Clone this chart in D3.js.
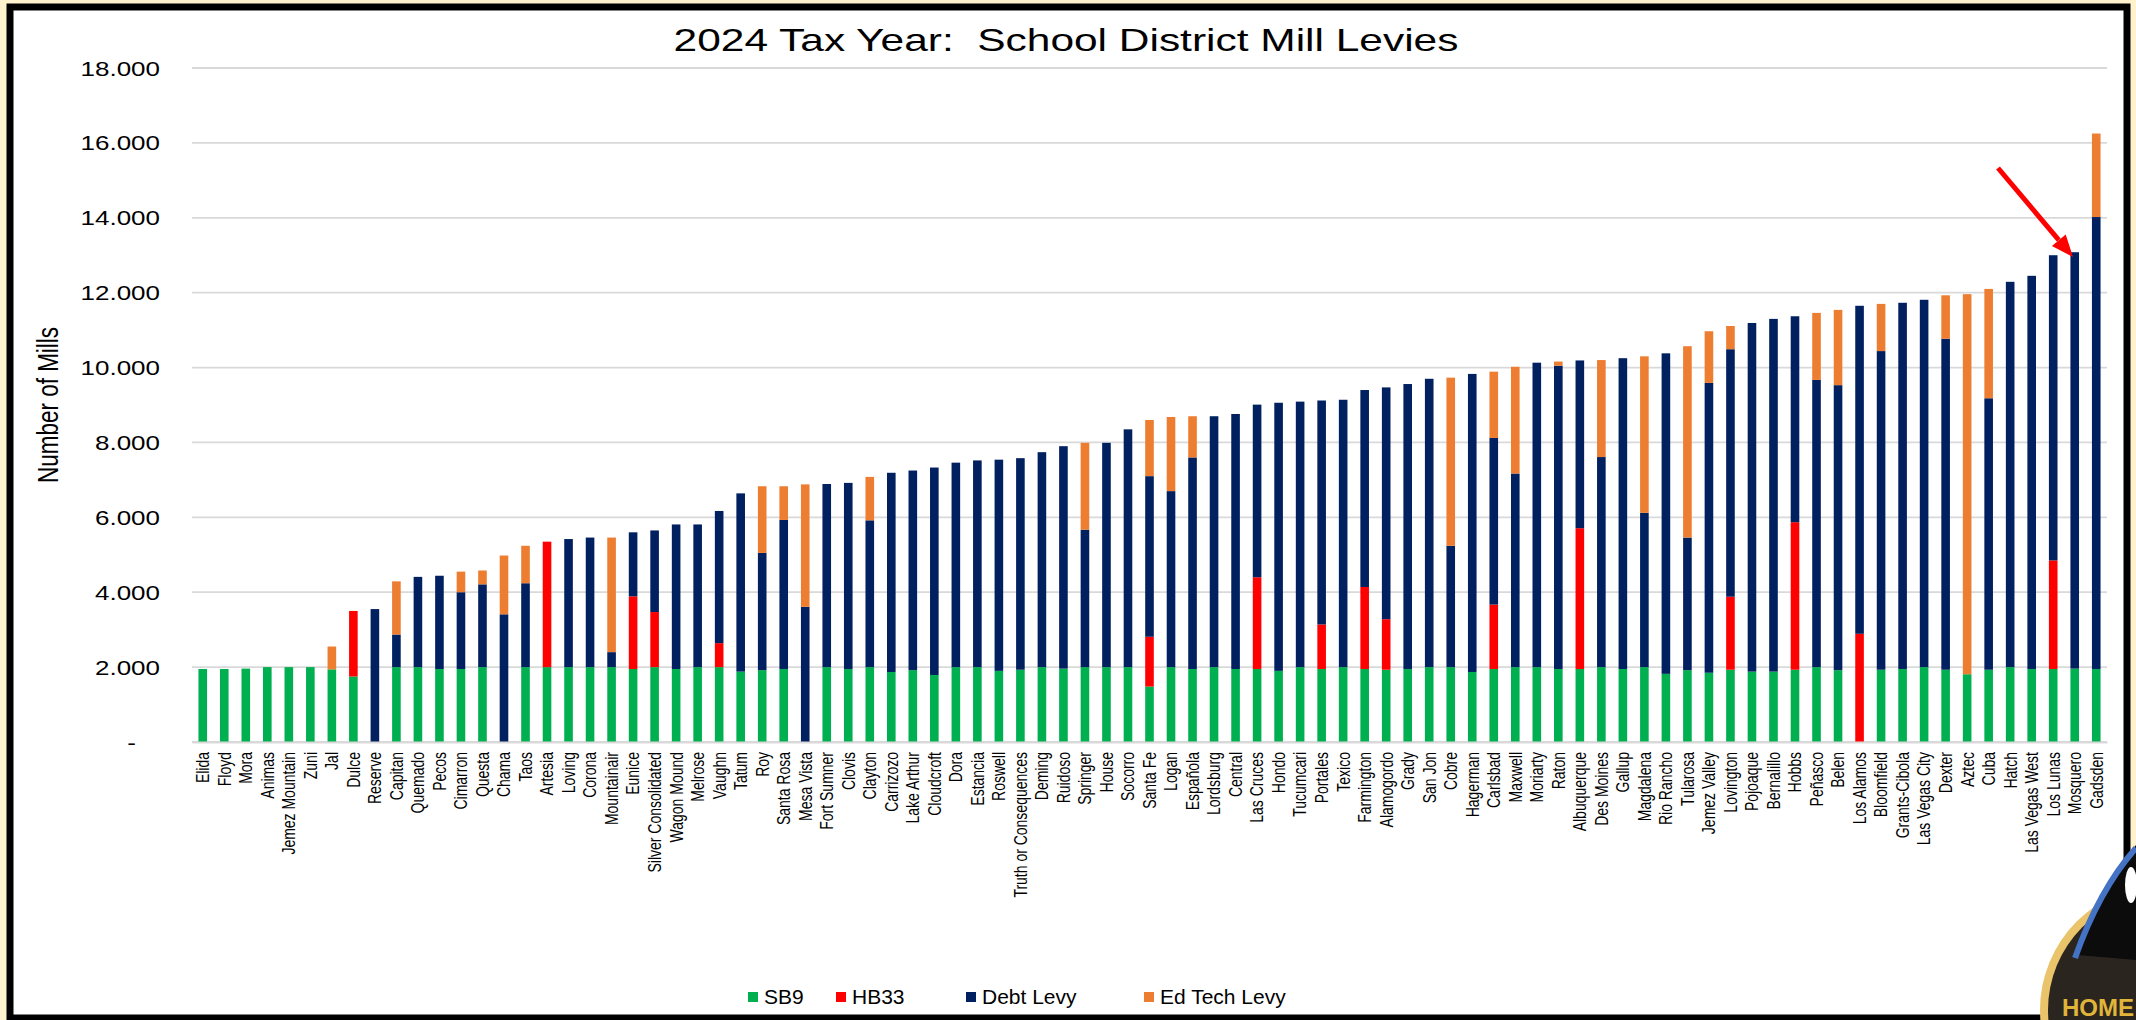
<!DOCTYPE html>
<html><head><meta charset="utf-8">
<script src="https://cdn.jsdelivr.net/npm/d3@7"></script>
<style>
body{margin:0;background:#FFF2CC;}
svg{display:block;}
text{font-family:"Liberation Sans", Arial, sans-serif;}
</style>
</head><body>
<svg id="chart" width="2136" height="1020"></svg>
<script>
const districts = ["Elida","Floyd","Mora","Animas","Jemez Mountain","Zuni","Jal","Dulce","Reserve","Capitan","Quemado","Pecos","Cimarron","Questa","Chama","Taos","Artesia","Loving","Corona","Mountainair","Eunice","Silver Consolidated","Wagon Mound","Melrose","Vaughn","Tatum","Roy","Santa Rosa","Mesa Vista","Fort Sumner","Clovis","Clayton","Carrizozo","Lake Arthur","Cloudcroft","Dora","Estancia","Roswell","Truth or Consequences","Deming","Ruidoso","Springer","House","Socorro","Santa Fe","Logan","Española","Lordsburg","Central","Las Cruces","Hondo","Tucumcari","Portales","Texico","Farmington","Alamogordo","Grady","San Jon","Cobre","Hagerman","Carlsbad","Maxwell","Moriarty","Raton","Albuquerque","Des Moines","Gallup","Magdalena","Rio Rancho","Tularosa","Jemez Valley","Lovington","Pojoaque","Bernalillo","Hobbs","Peñasco","Belen","Los Alamos","Bloomfield","Grants-Cibola","Las Vegas City","Dexter","Aztec","Cuba","Hatch","Las Vegas West","Los Lunas","Mosquero","Gadsden"];

const sb9 = [1.95,1.95,1.96,2.0,2.0,2.0,1.94,1.75,0,2.0,2.0,1.95,1.95,2.0,0,2.0,2.0,2.0,2.0,2.0,1.95,2.0,1.95,2.0,2.0,1.88,1.92,1.95,0,2.0,1.95,2.0,1.87,1.92,1.79,2.0,2.0,1.90,1.93,2.0,1.96,2.0,2.0,2.0,1.48,2.0,1.95,2.0,1.95,1.95,1.90,2.0,1.95,2.0,1.95,1.93,1.95,2.0,2.0,1.87,1.95,2.0,2.0,1.95,1.95,2.0,1.95,2.0,1.82,1.92,1.85,1.93,1.88,1.88,1.93,2.0,1.92,0,1.93,1.95,2.0,1.93,1.81,1.93,2.0,1.95,1.95,1.96,1.95];

const hb33 = [0,0,0,0,0,0,0,1.75,0,0,0,0,0,0,0,0,3.35,0,0,0,1.94,1.47,0,0,0.64,0,0,0,0,0,0,0,0,0,0,0,0,0,0,0,0,0,0,0,1.33,0,0,0,0,2.45,0,0,1.19,0,2.19,1.35,0,0,0,0,1.72,0,0,0,3.76,0,0,0,0,0,0,1.95,0,0,3.94,0,0,2.89,0,0,0,0,0,0,0,0,2.90,0,0];

const debtLevy = [0,0,0,0,0,0,0,0,3.55,0.87,2.41,2.49,2.05,2.21,3.41,2.24,0,3.42,3.46,0.40,1.71,2.18,3.86,3.81,3.53,4.76,3.13,3.98,3.61,4.89,4.97,3.92,5.32,5.33,5.54,5.46,5.52,5.64,5.65,5.74,5.94,3.67,5.99,6.35,4.29,4.70,5.65,6.70,6.81,4.61,7.16,7.09,5.98,7.14,5.26,6.19,7.61,7.70,3.24,7.96,4.45,5.17,8.13,8.10,4.48,5.61,8.30,4.12,8.56,3.54,7.74,6.61,9.31,9.42,5.50,7.67,7.61,8.76,8.51,9.78,9.81,8.84,0,7.25,10.29,10.50,8.15,11.12,12.07];

const edTechLevy = [0,0,0,0,0,0,0.61,0,0,1.42,0,0,0.55,0.37,1.57,1.00,0,0,0,3.06,0,0,0,0,0,0,1.78,0.90,3.27,0,0,1.16,0,0,0,0,0,0,0,0,0,2.32,0,0,1.50,1.98,1.10,0,0,0,0,0,0,0,0,0,0,0,4.49,0,1.77,2.85,0,0.11,0,2.59,0,4.18,0,5.11,1.38,0.62,0,0,0,1.79,2.01,0,1.26,0,0,1.16,10.15,2.92,0,0,0,0,2.23];

const seriesNames = ["SB9","HB33","Debt Levy","Ed Tech Levy"];
const seriesColors = ["#00B050","#FF0000","#002060","#ED7D31"];
const yTickValues = [0,2,4,6,8,10,12,14,16,18];
const titleText = "2024 Tax Year:  School District Mill Levies";
const yAxisTitle = "Number of Mills";

const SX = 1.3; // horizontal stretch of the original slide's text

const svg = d3.select("#chart");
const W = 2136, H = 1020;

// background + frame
svg.append("rect").attr("x",0).attr("y",0).attr("width",W).attr("height",H).attr("fill","#FFF2CC");
svg.append("rect").attr("x",10).attr("y",7).attr("width",2117).attr("height",1011)
  .attr("fill","#FFFFFF").attr("stroke","#000").attr("stroke-width",7);

const plot = {left:192, right:2107, top:68, bottom:742};

const rows = districts.map((d,i)=>({name:d, "SB9":sb9[i], "HB33":hb33[i], "Debt Levy":debtLevy[i], "Ed Tech Levy":edTechLevy[i]}));
const stack = d3.stack().keys(seriesNames)(rows);

const x = d3.scaleBand().domain(districts).range([plot.left, plot.right]).paddingInner(0.6).paddingOuter(0.3);
const y = d3.scaleLinear().domain([0,18]).range([plot.bottom, plot.top]);
const color = d3.scaleOrdinal().domain(seriesNames).range(seriesColors);

// gridlines
svg.append("g").selectAll("line").data(yTickValues).join("line")
  .attr("x1",plot.left).attr("x2",plot.right)
  .attr("y1",d=>y(d)).attr("y2",d=>y(d))
  .attr("stroke","#D9D9D9").attr("stroke-width",1.8);

// y axis
const fmt = d3.format(",.3f");
const yAxis = svg.append("g").attr("transform",`translate(${plot.left},0)`)
  .call(d3.axisLeft(y).tickValues(yTickValues).tickSize(0).tickFormat(d=> d===0 ? "-" : fmt(d)));
yAxis.select(".domain").remove();
yAxis.selectAll("text")
  .attr("font-size",20).attr("fill","#000").attr("font-family","Liberation Sans, Arial, sans-serif")
  .attr("x",null).attr("dy","0.35em")
  .attr("transform",d=> d===0 ? `translate(-56,0) scale(${SX},1)` : `translate(-32,0) scale(${SX},1)`);

// title
svg.append("text").attr("transform","translate(1066,51) scale(1.37,1)")
  .attr("text-anchor","middle").attr("font-size",31).attr("fill","#000")
  .style("white-space","pre").text(titleText);

// y axis title
svg.append("text").attr("transform",`translate(48,405) rotate(-90) scale(1,${SX})`)
  .attr("text-anchor","middle").attr("dy","0.35em").attr("font-size",22.5).attr("fill","#000").text(yAxisTitle);

// bars
svg.append("g").selectAll("g").data(stack).join("g").attr("fill",s=>color(s.key))
  .selectAll("rect").data(s=>s.filter(p=>p[1]-p[0]>0)).join("rect")
  .attr("x",p=>x(p.data.name)).attr("width",x.bandwidth())
  .attr("y",p=>y(p[1])).attr("height",p=>y(p[0])-y(p[1]));

// x axis
const xAxis = svg.append("g").attr("transform",`translate(0,${plot.bottom})`)
  .call(d3.axisBottom(x).tickSize(0));
xAxis.select(".domain").attr("stroke","#D9D9D9").attr("stroke-width",1.8);
xAxis.selectAll("text")
  .attr("font-size",14).attr("fill","#000").attr("font-family","Liberation Sans, Arial, sans-serif")
  .attr("text-anchor","end").attr("y",0).attr("x",-10).attr("dy","0.35em")
  .attr("transform",`rotate(-90) scale(1,${SX})`);

// legend
const legendX = [748, 836, 966, 1144];
const lg = svg.append("g").selectAll("g").data(seriesNames).join("g")
  .attr("transform",(d,i)=>`translate(${legendX[i]},997)`);
lg.append("rect").attr("x",0).attr("y",-5).attr("width",10).attr("height",10).attr("fill",d=>color(d));
lg.append("text").attr("transform","translate(16,0) scale(1.05,1)").attr("dy","0.35em")
  .attr("font-size",20).attr("fill","#000").text(d=>d);

// arrow
const arrow = svg.append("g");
const ax1=1998, ay1=168, ax2=2073, ay2=257;
const ang = Math.atan2(ay2-ay1, ax2-ax1);
const hl = 22, hw = 9;
const bx = ax2 - hl*Math.cos(ang), by = ay2 - hl*Math.sin(ang);
arrow.append("line").attr("x1",ax1).attr("y1",ay1).attr("x2",bx).attr("y2",by)
  .attr("stroke","#FF0000").attr("stroke-width",5);
arrow.append("path").attr("fill","#FF0000")
  .attr("d",`M${ax2},${ay2} L${bx - hw*Math.sin(ang)},${by + hw*Math.cos(ang)} L${bx + hw*Math.sin(ang)},${by - hw*Math.cos(ang)} Z`);

// logo (partial badge at bottom right)
const logo = svg.append("g");
logo.append("circle").attr("cx",2165).attr("cy",1010).attr("r",125).attr("fill","#E9C46A");
logo.append("circle").attr("cx",2165).attr("cy",1010).attr("r",117).attr("fill","#2B2520");
logo.append("path").attr("d","M2078,955 C2095,905 2115,870 2136,845 L2136,960 Z").attr("fill","#0c0c0c");
logo.append("path").attr("d","M2075,958 C2092,910 2112,875 2136,848").attr("fill","none").attr("stroke","#4472C4").attr("stroke-width",6);
logo.append("ellipse").attr("cx",2131).attr("cy",885).attr("rx",6).attr("ry",18).attr("fill","#fff");
logo.append("text").attr("x",2062).attr("y",1016).attr("font-family","Liberation Serif, serif").attr("font-weight","bold")
  .attr("font-size",24).attr("fill","#E0B53A").text("HOME");
</script>
</body></html>
